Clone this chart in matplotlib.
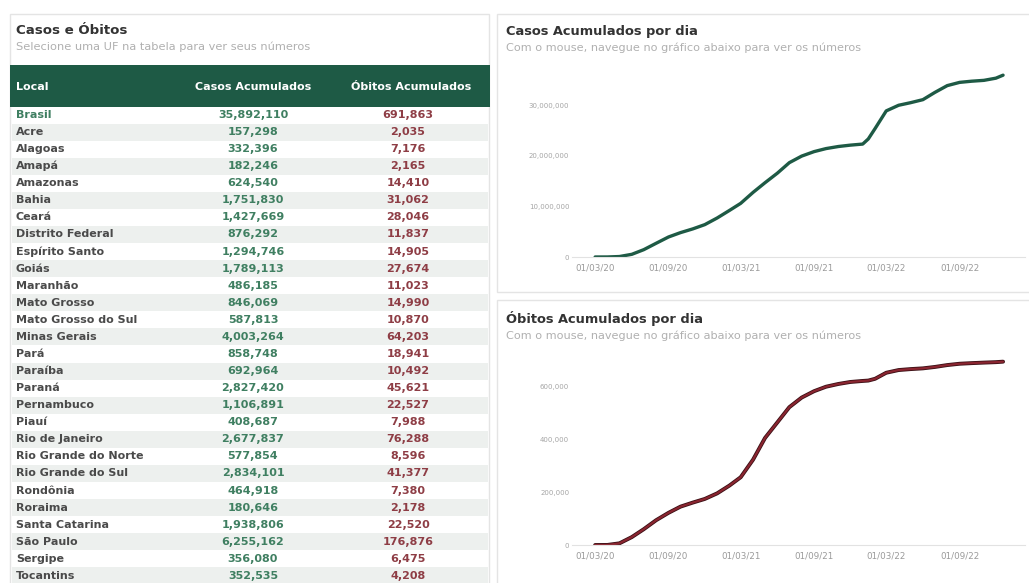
import numpy as np
import pandas as pd
import matplotlib
matplotlib.use("Agg")
import matplotlib.pyplot as plt
import matplotlib.dates as mdates
from matplotlib.patches import Rectangle
from matplotlib.ticker import FuncFormatter

plt.rcParams['font.family'] = 'DejaVu Sans'

W, H = 1029, 583

# tabela
locais = ["Brasil", "Acre", "Alagoas", "Amapá", "Amazonas", "Bahia", "Ceará",
          "Distrito Federal", "Espírito Santo", "Goiás", "Maranhão", "Mato Grosso",
          "Mato Grosso do Sul", "Minas Gerais", "Pará", "Paraíba", "Paraná",
          "Pernambuco", "Piauí", "Rio de Janeiro", "Rio Grande do Norte",
          "Rio Grande do Sul", "Rondônia", "Roraima", "Santa Catarina",
          "São Paulo", "Sergipe", "Tocantins"]
casos = [35892110, 157298, 332396, 182246, 624540, 1751830, 1427669, 876292,
         1294746, 1789113, 486185, 846069, 587813, 4003264, 858748, 692964,
         2827420, 1106891, 408687, 2677837, 577854, 2834101, 464918, 180646,
         1938806, 6255162, 356080, 352535]
obitos = [691863, 2035, 7176, 2165, 14410, 31062, 28046, 11837, 14905, 27674,
          11023, 14990, 10870, 64203, 18941, 10492, 45621, 22527, 7988, 76288,
          8596, 41377, 7380, 2178, 22520, 176876, 6475, 4208]

# series acumuladas (aprox.)
datas = pd.to_datetime([
    "2020-03-01", "2020-04-01", "2020-05-01", "2020-06-01", "2020-07-01",
    "2020-08-01", "2020-09-01", "2020-10-01", "2020-11-01", "2020-12-01",
    "2021-01-01", "2021-02-01", "2021-03-01", "2021-04-01", "2021-05-01",
    "2021-06-01", "2021-07-01", "2021-08-01", "2021-09-01", "2021-10-01",
    "2021-11-01", "2021-12-01", "2022-01-01", "2022-01-15", "2022-02-01",
    "2022-03-01", "2022-04-01", "2022-05-01", "2022-06-01", "2022-07-01",
    "2022-08-01", "2022-09-01", "2022-10-01", "2022-11-01", "2022-12-01",
    "2022-12-19"])
casos_acum = [0, 7000, 92000, 530000, 1450000, 2710000, 3950000, 4810000,
              5550000, 6390000, 7700000, 9200000, 10590000, 12750000, 14660000,
              16550000, 18620000, 19920000, 20800000, 21400000, 21810000,
              22080000, 22290000, 23300000, 25350000, 28840000, 29950000,
              30460000, 31060000, 32490000, 33830000, 34470000, 34700000,
              34870000, 35300000, 35892110]
obitos_acum = [0, 240, 6300, 29900, 59700, 93600, 121400, 144700, 160100,
               173800, 194900, 224500, 255700, 321900, 403800, 462800, 520100,
               556400, 580400, 597300, 607700, 615200, 619100, 620500, 627200,
               650000, 660200, 663800, 666600, 671900, 679000, 684000, 686300,
               688300, 690000, 691863]

verde_escuro = "#1e5a45"
verde = "#3f7f61"
vermelho = "#8e3d45"
cinza_txt = "#4a4a4a"
cinza_sub = "#b0b0b0"

fig = plt.figure(figsize=(W / 100, H / 100), dpi=100)
bg = fig.add_axes([0, 0, 1, 1])
bg.set_xlim(0, W)
bg.set_ylim(H, 0)
bg.axis('off')


def px_axes(x0, y0, x1, y1):
    return fig.add_axes([x0 / W, 1 - y1 / H, (x1 - x0) / W, (y1 - y0) / H])


# paineis
for (x0, y0, x1, y1) in [(10, 14, 489, 590), (497, 14, 1035, 292), (497, 300, 1035, 590)]:
    bg.add_patch(Rectangle((x0, y0), x1 - x0, y1 - y0, facecolor="white",
                           edgecolor="#e4e4e4", lw=1))

# painel tabela
bg.text(16, 31, "Casos e Óbitos", fontsize=9.6, fontweight="bold", color="#333333", va="center")
bg.text(16, 47, "Selecione uma UF na tabela para ver seus números", fontsize=8.2,
        color=cinza_sub, va="center")
bg.add_patch(Rectangle((10, 65), 480, 42, facecolor=verde_escuro, edgecolor="none"))
bg.text(16, 87, "Local", fontsize=8, fontweight="bold", color="white", va="center")
bg.text(253, 87, "Casos Acumulados", fontsize=8, fontweight="bold", color="white",
        va="center", ha="center")
bg.text(411, 87, "Óbitos Acumulados", fontsize=8, fontweight="bold", color="white",
        va="center", ha="center")

y0_row, dy = 115, 17.07
for i, (loc, c, o) in enumerate(zip(locais, casos, obitos)):
    yc = y0_row + i * dy
    if i % 2 == 1:
        bg.add_patch(Rectangle((12, yc - dy / 2), 476, dy, facecolor="#edf0ee",
                               edgecolor="none"))
    bg.text(16, yc, loc, fontsize=8, fontweight="bold",
            color=verde if i == 0 else cinza_txt, va="center")
    bg.text(253, yc, f"{c:,}", fontsize=8, fontweight="bold", color=verde,
            va="center", ha="center")
    bg.text(408, yc, f"{o:,}", fontsize=8, fontweight="bold", color=vermelho,
            va="center", ha="center")

# graficos de linha
xmin = pd.Timestamp("2020-03-01") - pd.Timedelta(days=58)
xmax = pd.Timestamp("2020-03-01") + pd.Timedelta(days=1078)
ticks = pd.to_datetime(["2020-03-01", "2020-09-01", "2021-03-01", "2021-09-01",
                        "2022-03-01", "2022-09-01"])


def estilo(ax, yticks, ytop):
    ax.set_xlim(xmin, xmax)
    ax.set_ylim(0, ytop)
    ax.set_facecolor("none")
    for s in ["top", "right", "left"]:
        ax.spines[s].set_visible(False)
    ax.spines["bottom"].set_color("#e2e2e2")
    ax.set_xticks(ticks)
    ax.xaxis.set_major_formatter(mdates.DateFormatter("%d/%m/%y"))
    ax.set_yticks(yticks)
    ax.yaxis.set_major_formatter(FuncFormatter(lambda v, p: f"{v:,.0f}"))
    ax.tick_params(axis="x", length=0, labelsize=6.3, labelcolor="#9a9a9a", pad=5)
    ax.tick_params(axis="y", length=0, labelsize=5, labelcolor="#a5a5a5", pad=2)


bg.text(506, 31, "Casos Acumulados por dia", fontsize=9.4, fontweight="bold",
        color="#333333", va="center")
bg.text(506, 48, "Com o mouse, navegue no gráfico abaixo para ver os números",
        fontsize=8.1, color=cinza_sub, va="center")
ax1 = px_axes(572, 65, 1025, 257)
ax1.plot(datas, casos_acum, color=verde_escuro, lw=2.4, solid_capstyle="round",
         solid_joinstyle="round")
estilo(ax1, [0, 10_000_000, 20_000_000, 30_000_000], 37_900_000)

bg.text(506, 318, "Óbitos Acumulados por dia", fontsize=9.4, fontweight="bold",
        color="#333333", va="center")
bg.text(506, 336, "Com o mouse, navegue no gráfico abaixo para ver os números",
        fontsize=8.1, color=cinza_sub, va="center")
ax2 = px_axes(572, 355, 1025, 545)
ax2.plot(datas, obitos_acum, color="#3a1015", lw=2.8, solid_capstyle="round",
         solid_joinstyle="round")
ax2.plot(datas, obitos_acum, color="#8a2530", lw=1.6, solid_capstyle="round",
         solid_joinstyle="round")
estilo(ax2, [0, 200_000, 400_000, 600_000], 717_000)

fig.savefig("out.png", dpi=100)
